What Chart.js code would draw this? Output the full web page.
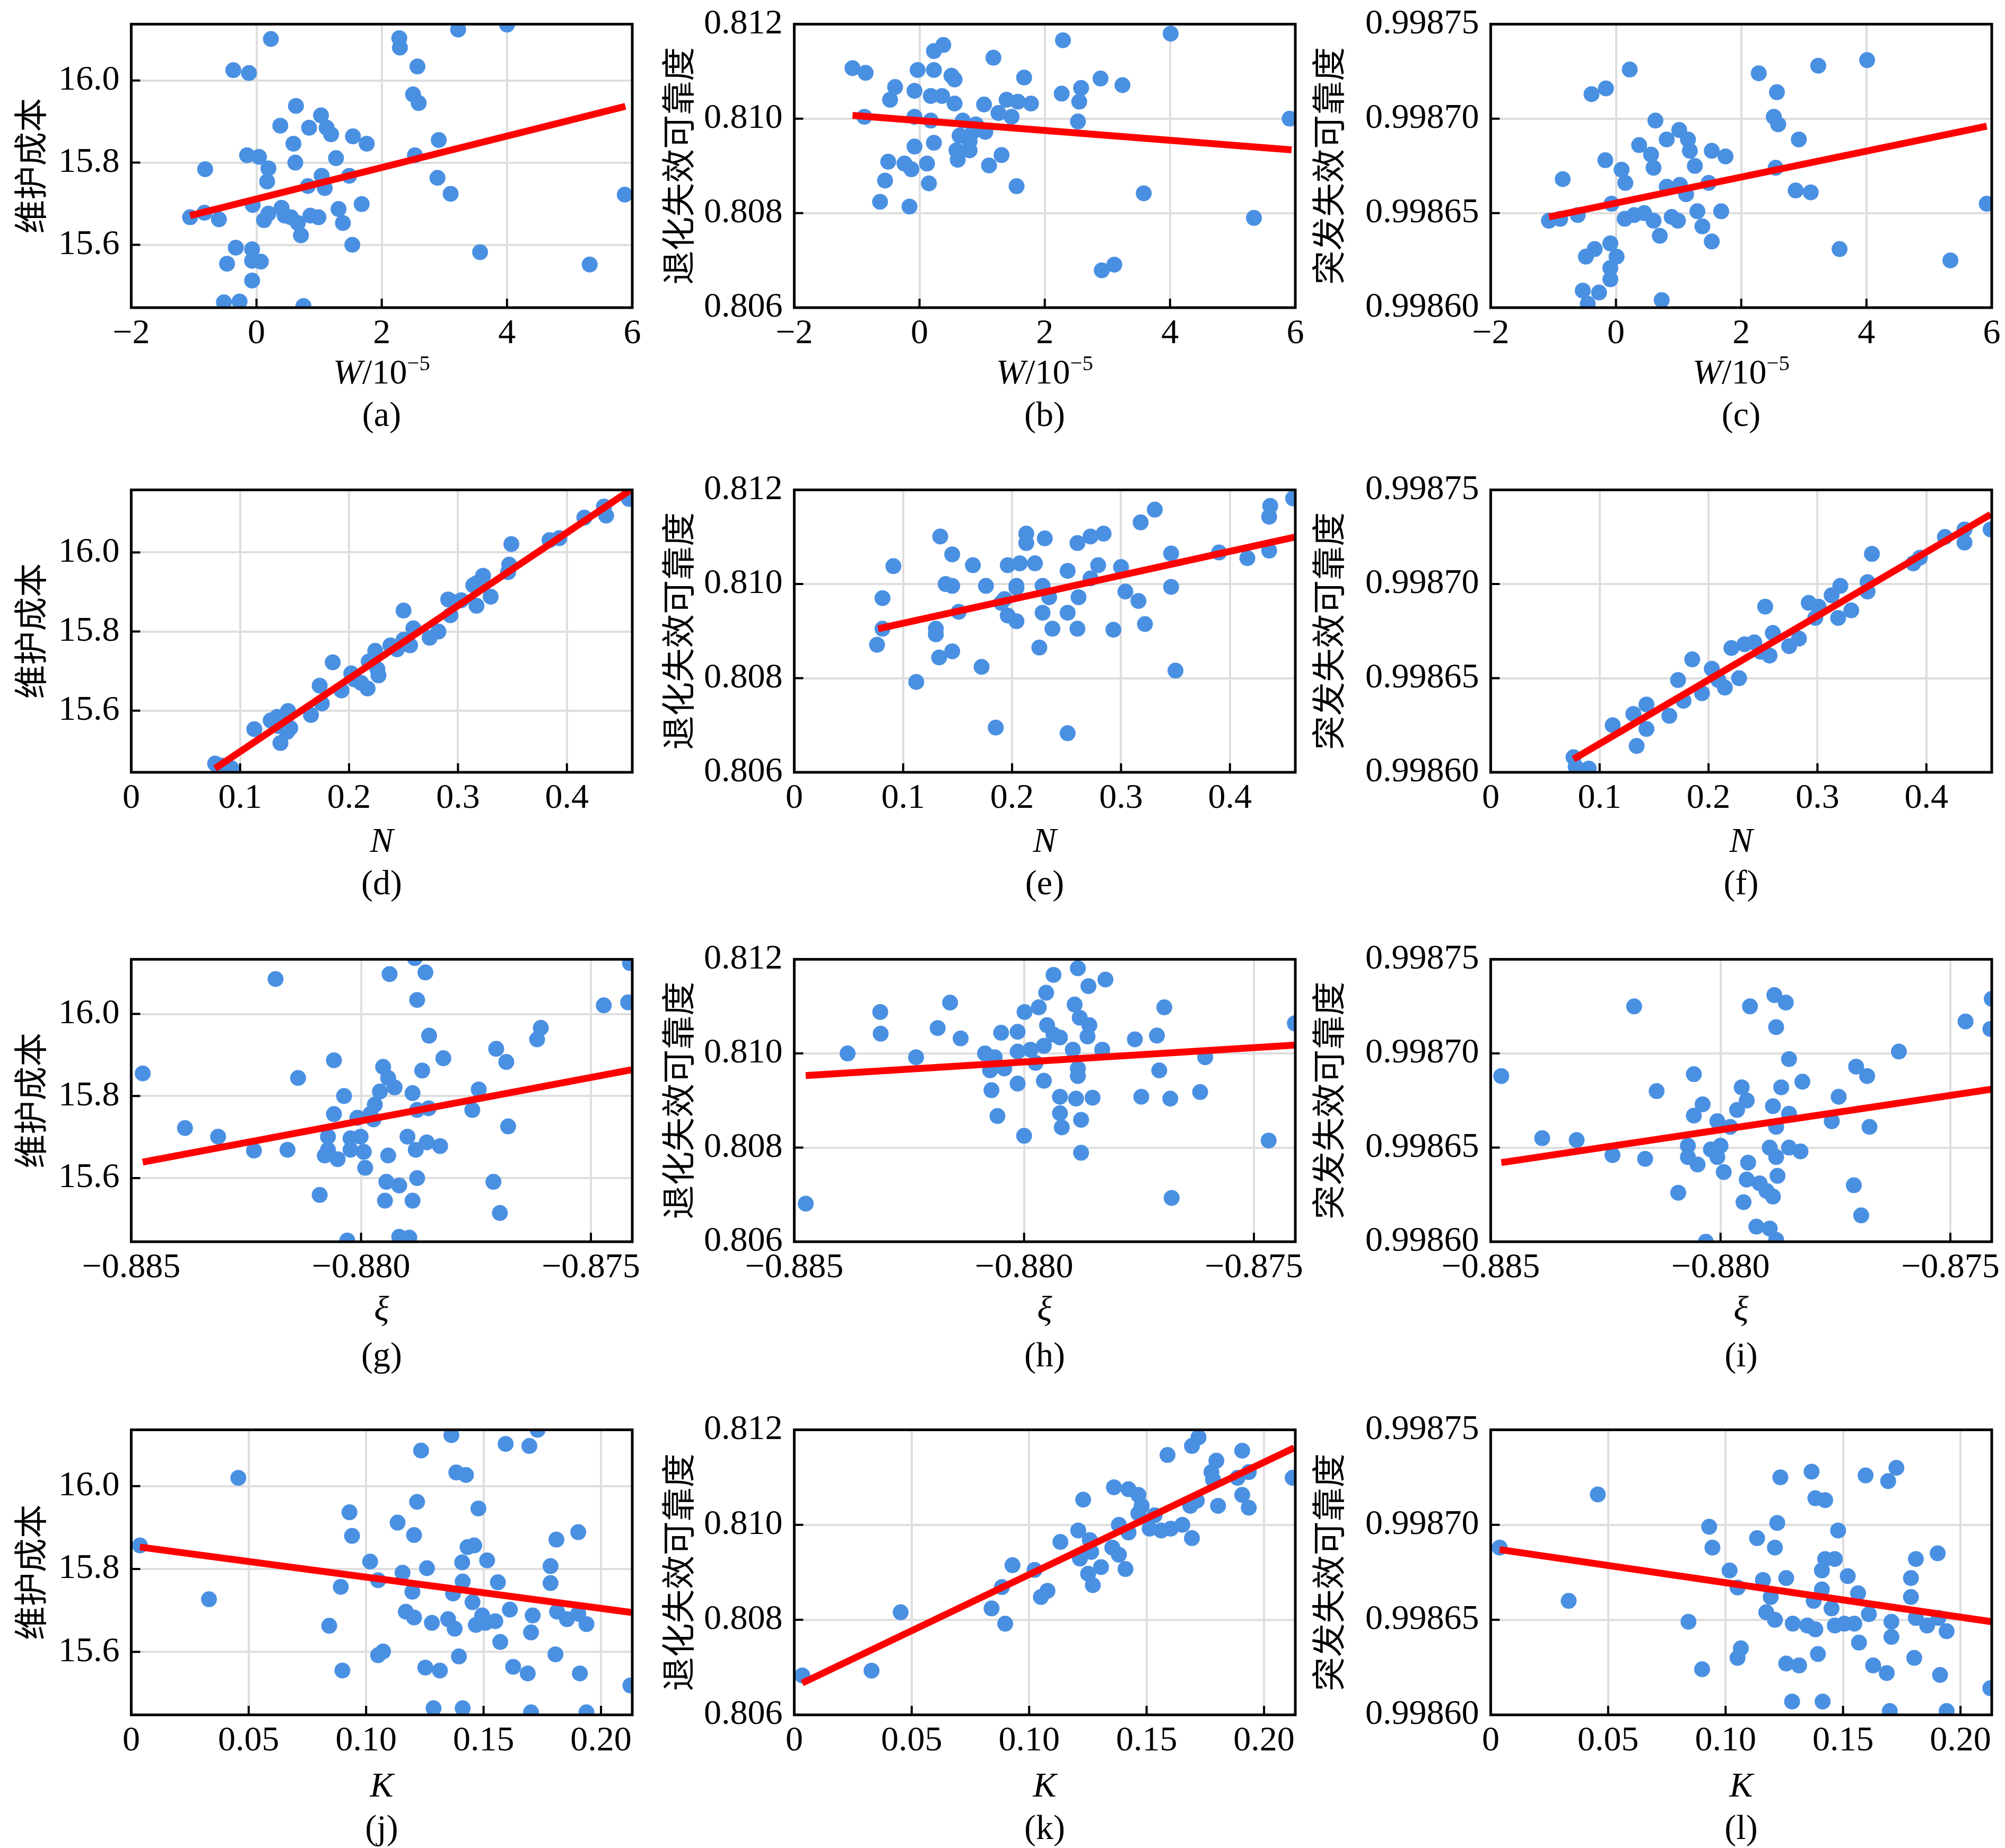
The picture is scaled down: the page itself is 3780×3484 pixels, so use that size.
<!DOCTYPE html>
<html>
<head>
<meta charset="utf-8">
<script src="https://cdn.jsdelivr.net/npm/chart.js@4.4.1/dist/chart.umd.min.js"></script>
<style>
  html, body { margin: 0; padding: 0; background: #fff; }
  #page { position: relative; width: 3780px; height: 3484px; overflow: hidden; background: #fff; }
  #page canvas { position: absolute; }
  .lbl { position: absolute; transform: translate(-50%, -50%); font-family: "Liberation Serif", "Times New Roman", serif;
         font-size: 66px; line-height: 1; white-space: nowrap; color: #000; }
  .lbl sup { font-size: 0.62em; vertical-align: 0.6em; line-height: 0; }
</style>
</head>
<body>
<div id="page"></div>
<script>
// ---- tick values / labels ----
const ticksW = [-2, 0, 2, 4, 6];
const labelsW = ['\u22122', '0', '2', '4', '6'];
const ticksN = [0, 0.1, 0.2, 0.3, 0.4];
const labelsN = ['0', '0.1', '0.2', '0.3', '0.4'];
const ticksXi = [-0.885, -0.880, -0.875];
const labelsXi = ['\u22120.885', '\u22120.880', '\u22120.875'];
const ticksK = [0, 0.05, 0.10, 0.15, 0.20];
const labelsK = ['0', '0.05', '0.10', '0.15', '0.20'];
const ticksCost = [15.6, 15.8, 16.0];
const labelsCost = ['15.6', '15.8', '16.0'];
const ticksDeg = [0.806, 0.808, 0.810, 0.812];
const labelsDeg = ['0.806', '0.808', '0.810', '0.812'];
const ticksSud = [0.99860, 0.99865, 0.99870, 0.99875];
const labelsSud = ['0.99860', '0.99865', '0.99870', '0.99875'];

const yTitles = ['维护成本', '退化失效可靠度', '突发失效可靠度'];
const captions = ['(a)', '(b)', '(c)', '(d)', '(e)', '(f)', '(g)', '(h)', '(i)', '(j)', '(k)', '(l)'];

// ---- scatter points [x, y] ----
const ptsA = [[0.23,16.101],[2.28,16.103],[2.29,16.080],[3.22,16.124],[4.0,16.136],[2.57,16.034],[-0.37,16.025],[-0.12,16.018],[2.50,15.966],[2.59,15.945],[0.63,15.938],[1.03,15.915],[0.38,15.890],[0.84,15.885],[1.12,15.885],[1.19,15.869],[1.54,15.864],[1.76,15.846],[2.91,15.855],[0.59,15.846],[-0.15,15.818],[0.04,15.814],[0.19,15.786],[0.17,15.754],[0.62,15.800],[1.27,15.811],[-0.82,15.784],[2.53,15.818],[1.04,15.768],[1.48,15.768],[0.82,15.743],[1.09,15.738],[2.89,15.763],[3.10,15.724],[5.88,15.722],[-0.06,15.697],[-0.83,15.678],[-1.06,15.667],[-0.60,15.662],[0.19,15.676],[0.40,15.690],[0.55,15.667],[0.66,15.653],[0.86,15.671],[0.99,15.667],[1.31,15.687],[1.68,15.699],[1.38,15.653],[0.71,15.623],[1.53,15.600],[3.57,15.582],[5.32,15.552],[-0.33,15.593],[-0.07,15.589],[-0.47,15.554],[-0.07,15.561],[0.07,15.559],[-0.07,15.513],[-0.52,15.460],[-0.27,15.462],[0.75,15.451],[0.12,15.660],[0.45,15.671]];
const ptsB = [[-1.07,0.81107],[-0.86,0.81097],[0.38,0.81156],[0.23,0.81143],[1.18,0.81129],[2.29,0.81166],[4.01,0.81180],[-0.03,0.81103],[0.23,0.81103],[0.51,0.81091],[0.56,0.81083],[1.67,0.81087],[2.89,0.81085],[3.24,0.81071],[-0.39,0.81067],[-0.47,0.81040],[-0.08,0.81059],[0.18,0.81048],[0.36,0.81048],[0.56,0.81032],[1.03,0.81030],[1.39,0.81040],[1.57,0.81036],[1.78,0.81032],[2.27,0.81053],[2.58,0.81065],[2.55,0.81036],[-0.88,0.81004],[-0.08,0.81004],[0.18,0.80996],[1.26,0.81012],[1.47,0.81004],[2.53,0.80994],[5.91,0.81000],[0.69,0.80996],[0.90,0.80988],[1.05,0.80972],[0.80,0.80952],[0.59,0.80933],[0.80,0.80933],[-0.08,0.80941],[0.23,0.80949],[-0.50,0.80909],[-0.24,0.80905],[-0.13,0.80893],[0.12,0.80905],[0.61,0.80913],[1.11,0.80901],[1.31,0.80923],[-0.55,0.80869],[0.15,0.80863],[1.55,0.80857],[3.58,0.80842],[-0.63,0.80824],[-0.16,0.80814],[5.34,0.80790],[2.91,0.80679],[3.11,0.80691],[0.85,0.80972],[0.64,0.80964]];
const ptsC = [[0.22,0.998726],[-0.39,0.998713],[-0.16,0.998716],[2.28,0.998724],[3.23,0.998728],[4.01,0.998731],[2.57,0.998714],[0.63,0.998699],[2.52,0.998701],[2.59,0.998697],[1.01,0.998694],[0.81,0.998689],[1.15,0.998689],[1.18,0.998683],[0.37,0.998686],[0.56,0.998681],[0.60,0.998674],[1.26,0.998675],[1.53,0.998683],[1.75,0.998680],[2.92,0.998689],[2.55,0.998674],[-0.17,0.998678],[0.09,0.998673],[0.15,0.998666],[-0.85,0.998668],[0.81,0.998664],[1.02,0.998665],[1.12,0.998660],[1.48,0.998666],[2.87,0.998662],[3.11,0.998661],[5.92,0.998655],[-0.07,0.998655],[-1.07,0.998646],[-0.89,0.998647],[-0.61,0.998649],[0.14,0.998647],[0.29,0.998649],[0.45,0.998650],[0.60,0.998646],[0.89,0.998648],[0.99,0.998646],[1.30,0.998651],[1.68,0.998651],[1.38,0.998643],[1.53,0.998635],[0.70,0.998638],[3.57,0.998631],[5.34,0.998625],[-0.48,0.998627],[-0.34,0.998631],[-0.09,0.998634],[0.01,0.998627],[-0.09,0.998621],[-0.09,0.998615],[-0.53,0.998609],[-0.27,0.998608],[-0.45,0.998602],[0.73,0.998604]];
const ptsD = [[0.077,15.466],[0.083,15.461],[0.092,15.454],[0.113,15.553],[0.134,15.584],[0.144,15.599],[0.135,15.561],[0.137,15.518],[0.143,15.546],[0.165,15.589],[0.175,15.618],[0.173,15.663],[0.185,15.722],[0.193,15.651],[0.202,15.694],[0.211,15.670],[0.217,15.656],[0.226,15.705],[0.227,15.689],[0.224,15.751],[0.238,15.765],[0.250,15.779],[0.259,15.808],[0.250,15.853],[0.256,15.765],[0.274,15.784],[0.282,15.800],[0.291,15.881],[0.293,15.841],[0.303,15.879],[0.317,15.865],[0.314,15.917],[0.323,15.941],[0.330,15.888],[0.346,15.950],[0.347,15.969],[0.349,16.021],[0.384,16.031],[0.393,16.036],[0.416,16.088],[0.434,16.116],[0.436,16.093],[0.457,16.135],[0.205,15.679],[0.244,15.755],[0.218,15.724],[0.297,15.874],[0.317,15.922],[0.128,15.575],[0.146,15.556]];
const ptsE = [[0.134,0.81101],[0.145,0.81063],[0.091,0.81038],[0.164,0.81040],[0.081,0.80970],[0.139,0.81000],[0.145,0.80996],[0.176,0.80996],[0.196,0.81040],[0.207,0.81044],[0.221,0.81044],[0.204,0.80996],[0.213,0.81107],[0.230,0.81097],[0.213,0.81087],[0.260,0.81087],[0.272,0.81101],[0.284,0.81107],[0.318,0.81131],[0.331,0.81158],[0.437,0.81166],[0.436,0.81143],[0.458,0.81182],[0.346,0.81065],[0.390,0.81067],[0.416,0.81055],[0.436,0.81071],[0.251,0.81028],[0.279,0.81040],[0.300,0.81036],[0.272,0.81012],[0.228,0.80996],[0.234,0.80972],[0.261,0.80972],[0.304,0.80984],[0.316,0.80964],[0.346,0.80994],[0.190,0.80960],[0.196,0.80933],[0.204,0.80921],[0.151,0.80941],[0.130,0.80905],[0.130,0.80893],[0.081,0.80905],[0.228,0.80939],[0.251,0.80939],[0.237,0.80905],[0.260,0.80905],[0.293,0.80903],[0.322,0.80915],[0.076,0.80871],[0.133,0.80844],[0.145,0.80857],[0.225,0.80865],[0.172,0.80824],[0.350,0.80816],[0.112,0.80792],[0.185,0.80695],[0.251,0.80683],[0.204,0.80992],[0.193,0.80968]];
const ptsF = [[0.076,0.998608],[0.078,0.998603],[0.090,0.998602],[0.112,0.998625],[0.134,0.998614],[0.131,0.998631],[0.143,0.998636],[0.143,0.998623],[0.164,0.998630],[0.177,0.998638],[0.172,0.998649],[0.185,0.998660],[0.194,0.998642],[0.203,0.998655],[0.215,0.998645],[0.228,0.998650],[0.221,0.998666],[0.233,0.998668],[0.242,0.998669],[0.259,0.998674],[0.252,0.998688],[0.256,0.998662],[0.274,0.998667],[0.283,0.998671],[0.292,0.998690],[0.298,0.998682],[0.313,0.998694],[0.321,0.998699],[0.319,0.998682],[0.331,0.998686],[0.346,0.998701],[0.346,0.998696],[0.350,0.998716],[0.388,0.998711],[0.394,0.998714],[0.417,0.998725],[0.435,0.998729],[0.435,0.998722],[0.459,0.998729],[0.209,0.998649],[0.248,0.998664],[0.301,0.998688]];
const ptsG = [[-0.88475,15.855],[-0.88186,16.085],[-0.87938,16.097],[-0.87860,16.101],[-0.87883,16.136],[-0.87878,16.034],[-0.87472,16.021],[-0.87419,16.028],[-0.87415,16.124],[-0.87609,15.966],[-0.87617,15.938],[-0.87852,15.947],[-0.87706,15.915],[-0.87684,15.883],[-0.87821,15.892],[-0.87867,15.862],[-0.88059,15.887],[-0.88137,15.844],[-0.87952,15.871],[-0.87941,15.844],[-0.87927,15.821],[-0.87959,15.811],[-0.87888,15.807],[-0.87744,15.816],[-0.88037,15.800],[-0.87970,15.779],[-0.87980,15.756],[-0.88059,15.756],[-0.88008,15.747],[-0.87973,15.743],[-0.87878,15.766],[-0.87853,15.770],[-0.87758,15.766],[-0.87680,15.726],[-0.88383,15.722],[-0.88311,15.701],[-0.88233,15.667],[-0.88160,15.669],[-0.88072,15.701],[-0.88072,15.669],[-0.88051,15.646],[-0.88079,15.655],[-0.88023,15.697],[-0.88001,15.701],[-0.88023,15.669],[-0.87994,15.664],[-0.87941,15.655],[-0.87899,15.701],[-0.87881,15.669],[-0.87857,15.687],[-0.87828,15.678],[-0.87991,15.625],[-0.87712,15.591],[-0.88090,15.559],[-0.87945,15.591],[-0.87917,15.582],[-0.87878,15.600],[-0.87948,15.545],[-0.87888,15.545],[-0.87698,15.515],[-0.87917,15.457],[-0.87895,15.455],[-0.88030,15.448]];
const ptsH = [[-0.88475,0.80681],[-0.88384,0.81000],[-0.88313,0.81088],[-0.88312,0.81042],[-0.88235,0.80992],[-0.88188,0.81054],[-0.88161,0.81108],[-0.88138,0.81032],[-0.87936,0.81167],[-0.87883,0.81181],[-0.87823,0.81157],[-0.87860,0.81143],[-0.87952,0.81129],[-0.87968,0.81098],[-0.87999,0.81088],[-0.87890,0.81104],[-0.87879,0.81076],[-0.87858,0.81060],[-0.87862,0.81036],[-0.87950,0.81060],[-0.87936,0.81040],[-0.87922,0.81034],[-0.88050,0.81044],[-0.88014,0.81046],[-0.87695,0.81098],[-0.87711,0.81038],[-0.87759,0.81030],[-0.87411,0.81064],[-0.88085,0.81000],[-0.88064,0.80992],[-0.88014,0.81004],[-0.87986,0.81008],[-0.87957,0.81016],[-0.87894,0.81008],[-0.87830,0.81008],[-0.87606,0.80992],[-0.87706,0.80964],[-0.88074,0.80964],[-0.88043,0.80968],[-0.87975,0.80980],[-0.87883,0.80968],[-0.87883,0.80952],[-0.88014,0.80936],[-0.87957,0.80942],[-0.88071,0.80922],[-0.87922,0.80908],[-0.87887,0.80904],[-0.87851,0.80906],[-0.87745,0.80908],[-0.87682,0.80904],[-0.87617,0.80918],[-0.88058,0.80867],[-0.87922,0.80873],[-0.87918,0.80843],[-0.87876,0.80859],[-0.88000,0.80825],[-0.87876,0.80789],[-0.87468,0.80815],[-0.87679,0.80693]];
const ptsI = [[-0.88477,0.998688],[-0.88388,0.998655],[-0.88313,0.998654],[-0.88235,0.998646],[-0.88164,0.998644],[-0.88188,0.998725],[-0.88139,0.998680],[-0.88058,0.998689],[-0.88039,0.998673],[-0.88058,0.998667],[-0.87936,0.998725],[-0.87883,0.998731],[-0.87858,0.998727],[-0.87879,0.998714],[-0.87851,0.998697],[-0.87822,0.998685],[-0.87868,0.998682],[-0.87705,0.998693],[-0.87681,0.998688],[-0.87612,0.998701],[-0.87467,0.998717],[-0.87413,0.998713],[-0.87410,0.998729],[-0.87743,0.998677],[-0.87758,0.998664],[-0.87676,0.998661],[-0.87954,0.998682],[-0.87943,0.998675],[-0.87964,0.998670],[-0.88007,0.998664],[-0.87979,0.998661],[-0.87886,0.998672],[-0.87851,0.998668],[-0.87879,0.998661],[-0.88071,0.998651],[-0.88071,0.998645],[-0.88050,0.998641],[-0.88021,0.998649],[-0.88000,0.998651],[-0.88007,0.998645],[-0.87940,0.998642],[-0.87893,0.998650],[-0.87879,0.998645],[-0.87851,0.998650],[-0.87826,0.998648],[-0.87993,0.998637],[-0.87710,0.998630],[-0.88092,0.998626],[-0.87943,0.998633],[-0.87915,0.998631],[-0.87876,0.998635],[-0.87950,0.998621],[-0.87886,0.998624],[-0.87694,0.998614],[-0.87922,0.998608],[-0.87893,0.998607],[-0.87879,0.998601],[-0.88032,0.998600],[-0.87900,0.998627]];
const ptsJ = [[0.0037,15.857],[0.0331,15.727],[0.0456,16.020],[0.0843,15.663],[0.0892,15.757],[0.0899,15.555],[0.0929,15.937],[0.0940,15.880],[0.1017,15.818],[0.1051,15.773],[0.1051,15.592],[0.1072,15.601],[0.1134,15.912],[0.1155,15.791],[0.1204,15.882],[0.1197,15.745],[0.1217,15.962],[0.1234,16.086],[0.1169,15.697],[0.1204,15.683],[0.1259,15.802],[0.1280,15.670],[0.1252,15.562],[0.1314,15.555],[0.1287,15.464],[0.1363,16.123],[0.1384,16.033],[0.1425,16.027],[0.1409,15.816],[0.1411,15.770],[0.1432,15.853],[0.1460,15.857],[0.1370,15.741],[0.1349,15.679],[0.1377,15.656],[0.1453,15.720],[0.1467,15.665],[0.1494,15.688],[0.1508,15.670],[0.1550,15.674],[0.1478,15.946],[0.1515,15.821],[0.1561,15.768],[0.1612,15.702],[0.1571,15.624],[0.1395,15.589],[0.1411,15.464],[0.1594,16.102],[0.1695,16.097],[0.1730,16.136],[0.1810,15.871],[0.1903,15.889],[0.1785,15.807],[0.1785,15.766],[0.1709,15.688],[0.1702,15.647],[0.1813,15.697],[0.1855,15.679],[0.1903,15.692],[0.1938,15.667],[0.1806,15.594],[0.1626,15.564],[0.1688,15.548],[0.1910,15.548],[0.2125,15.519],[0.1702,15.454],[0.1938,15.454]];
const ptsK = [[0.0034,0.80683],[0.0329,0.80693],[0.0453,0.80816],[0.0840,0.80824],[0.0898,0.80792],[0.0929,0.80915],[0.1023,0.80905],[0.1050,0.80848],[0.1078,0.80861],[0.0884,0.80869],[0.1133,0.80964],[0.1209,0.80988],[0.1230,0.81053],[0.1216,0.80929],[0.1258,0.80968],[0.1264,0.80943],[0.1306,0.80911],[0.1251,0.80897],[0.1271,0.80873],[0.1361,0.81079],[0.1423,0.81075],[0.1465,0.81063],[0.1382,0.81000],[0.1423,0.80984],[0.1465,0.81024],[0.1513,0.80992],[0.1562,0.80988],[0.1603,0.80992],[0.1652,0.81000],[0.1686,0.81040],[0.1693,0.80972],[0.1410,0.80907],[0.1354,0.80952],[0.1382,0.80937],[0.1589,0.81147],[0.1693,0.81166],[0.1721,0.81184],[0.1797,0.81135],[0.1776,0.81111],[0.1907,0.81156],[0.1783,0.81095],[0.1887,0.81099],[0.1935,0.81111],[0.1907,0.81063],[0.1935,0.81036],[0.1804,0.81040],[0.1714,0.81051],[0.2122,0.81099],[0.1479,0.81040],[0.1534,0.81020]];
const ptsL = [[0.0038,0.998688],[0.0332,0.998660],[0.0456,0.998716],[0.0842,0.998649],[0.0900,0.998624],[0.0930,0.998699],[0.0944,0.998688],[0.1017,0.998676],[0.1051,0.998667],[0.1065,0.998635],[0.1051,0.998630],[0.1134,0.998693],[0.1159,0.998671],[0.1210,0.998688],[0.1220,0.998701],[0.1233,0.998725],[0.1192,0.998662],[0.1173,0.998654],[0.1210,0.998650],[0.1258,0.998672],[0.1286,0.998648],[0.1348,0.998647],[0.1258,0.998627],[0.1313,0.998626],[0.1283,0.998607],[0.1366,0.998728],[0.1382,0.998714],[0.1424,0.998713],[0.1479,0.998697],[0.1410,0.998676],[0.1424,0.998682],[0.1465,0.998682],[0.1410,0.998666],[0.1375,0.998660],[0.1382,0.998645],[0.1451,0.998656],[0.1465,0.998647],[0.1506,0.998648],[0.1548,0.998648],[0.1520,0.998673],[0.1564,0.998664],[0.1610,0.998653],[0.1568,0.998638],[0.1393,0.998632],[0.1413,0.998607],[0.1596,0.998726],[0.1692,0.998723],[0.1727,0.998730],[0.1810,0.998682],[0.1903,0.998685],[0.1789,0.998672],[0.1789,0.998662],[0.1706,0.998649],[0.1706,0.998641],[0.1810,0.998651],[0.1858,0.998647],[0.1906,0.998651],[0.1941,0.998644],[0.1803,0.998630],[0.1628,0.998626],[0.1686,0.998622],[0.1913,0.998621],[0.2127,0.998614],[0.1699,0.998602],[0.1941,0.998602]];

// ---- fitted line end points [x, y] ----
const fitA = [[-1.06, 15.671], [5.89, 15.937]];
const fitB = [[-1.07, 0.81007], [5.94, 0.80934]];
const fitC = [[-1.07, 0.998648], [5.92, 0.998696]];
const fitD = [[0.077, 15.454], [0.458, 16.157]];
const fitE = [[0.077, 0.80905], [0.460, 0.81100]];
const fitF = [[0.076, 0.998607], [0.459, 0.998737]];
const fitG = [[-0.88475, 15.639], [-0.87412, 15.864]];
const fitH = [[-0.88475, 0.80953], [-0.87408, 0.81018]];
const fitI = [[-0.88477, 0.998642], [-0.87410, 0.998681]];
const fitJ = [[0.0037, 15.853], [0.2132, 15.695]];
const fitK = [[0.0034, 0.80667], [0.2128, 0.81162]];
const fitL = [[0.0038, 0.998687], [0.2134, 0.998649]];

// ---- axis ranges ----
const xRanges = [[-2, 6], [0, 0.46], [-0.885, -0.8741], [0, 0.2133]];
const costRanges = [[15.447, 16.137], [15.444, 16.158], [15.445, 16.133], [15.448, 16.136]];
const degRange = [0.806, 0.812];
const sudRange = [0.99860, 0.99875];

// ---- layout (page pixels) ----
const colLeft = [247, 1497, 2810];
const rowTop = [34, 912, 1797, 2684];
const rowH = [546, 544, 544, 549];
const plotW = 945;
const yTitleDist = [191, 220, 307];
const xTitleOff = [121, 128, 126, 132];
const captionOff = [201, 208, 213, 212];
const TICK_SIZE = 66, TITLE_SIZE = 64, LINE_H = 1.2;
const PAD_T = 50, PAD_R = 90, AXIS_B = 110;

const xTicks = [ticksW, ticksN, ticksXi, ticksK];
const xLabels = [labelsW, labelsN, labelsXi, labelsK];
const xTitles = ['<i>W</i>/10<sup>\u22125</sup>', '<i>N</i>', '<i>\u03be</i>', '<i>K</i>'];
const yTicks = [ticksCost, ticksDeg, ticksSud];
const yLabels = [labelsCost, labelsDeg, labelsSud];

const points = [[ptsA, ptsB, ptsC], [ptsD, ptsE, ptsF], [ptsG, ptsH, ptsI], [ptsJ, ptsK, ptsL]];
const fits = [[fitA, fitB, fitC], [fitD, fitE, fitF], [fitG, fitH, fitI], [fitJ, fitK, fitL]];

const serif = '"Liberation Serif", "Times New Roman", serif';

// box frame + inward tick marks
const framePlugin = {
  id: 'frame',
  afterDatasetsDraw(chart) {
    const { ctx, chartArea: a, scales: { x, y } } = chart;
    ctx.save();
    ctx.strokeStyle = '#000';
    ctx.lineWidth = 4;
    ctx.beginPath();
    x.ticks.forEach(t => {
      const px = x.getPixelForValue(t.value);
      ctx.moveTo(px, a.bottom); ctx.lineTo(px, a.bottom - 17);
    });
    y.ticks.forEach(t => {
      const py = y.getPixelForValue(t.value);
      ctx.moveTo(a.left, py); ctx.lineTo(a.left + 17, py);
    });
    ctx.stroke();
    ctx.lineWidth = 5;
    ctx.strokeRect(a.left, a.top, a.right - a.left, a.bottom - a.top);
    ctx.restore();
  }
};

const page = document.getElementById('page');

function addLabel(html, cx, cy) {
  const d = document.createElement('div');
  d.className = 'lbl';
  d.innerHTML = html;
  d.style.left = cx + 'px';
  d.style.top = cy + 'px';
  page.appendChild(d);
}

for (let r = 0; r < 4; r++) {
  for (let c = 0; c < 3; c++) {
    const L = yTitleDist[c] + TITLE_SIZE * LINE_H / 2;
    const canvas = document.createElement('canvas');
    const w = L + plotW + PAD_R;
    const h = PAD_T + rowH[r] + AXIS_B;
    canvas.width = w; canvas.height = h;
    canvas.style.width = w + 'px'; canvas.style.height = h + 'px';
    canvas.style.left = (colLeft[c] - L) + 'px';
    canvas.style.top = (rowTop[r] - PAD_T) + 'px';
    page.appendChild(canvas);

    const yr = c === 0 ? costRanges[r] : (c === 1 ? degRange : sudRange);
    const xv = xTicks[r], xl = xLabels[r], yv = yTicks[c], yl = yLabels[c];

    new Chart(canvas, {
      type: 'scatter',
      data: {
        datasets: [
          {
            type: 'line',
            data: fits[r][c].map(([x, y]) => ({ x, y })),
            borderColor: '#ff0000', borderWidth: 13, pointRadius: 0,
            fill: false, tension: 0, order: 0, clip: 0
          },
          {
            data: points[r][c].map(([x, y]) => ({ x, y })),
            backgroundColor: '#4a90e2', borderWidth: 0, pointRadius: 15,
            order: 1, clip: 0
          }
        ]
      },
      options: {
        responsive: false, animation: false, devicePixelRatio: 1,
        layout: { padding: { left: 0, top: PAD_T, right: PAD_R, bottom: 0 } },
        plugins: { legend: { display: false }, tooltip: { enabled: false } },
        scales: {
          x: {
            type: 'linear', min: xRanges[r][0], max: xRanges[r][1],
            afterFit: s => { s.height = AXIS_B; },
            afterBuildTicks: s => { s.ticks = xv.map(v => ({ value: v })); },
            ticks: { callback: (v, i) => xl[i], color: '#000', padding: 10, autoSkip: false, maxRotation: 0,
                     font: { family: serif, size: TICK_SIZE } },
            grid: { color: '#dedede', lineWidth: 4, drawTicks: false },
            border: { display: false }
          },
          y: {
            type: 'linear', min: yr[0], max: yr[1],
            afterFit: s => { s.width = L; },
            afterBuildTicks: s => { s.ticks = yv.map(v => ({ value: v })); },
            ticks: { callback: (v, i) => yl[i], color: '#000', padding: 22, autoSkip: false,
                     font: { family: serif, size: TICK_SIZE } },
            grid: { color: '#dedede', lineWidth: 4, drawTicks: false },
            border: { display: false },
            title: { display: true, text: yTitles[c], color: '#000', padding: 0,
                     font: { family: '"Noto Sans CJK SC", sans-serif', size: TITLE_SIZE, lineHeight: LINE_H } }
          }
        }
      },
      plugins: [framePlugin]
    });

    const cx = colLeft[c] + plotW / 2;
    const bottom = rowTop[r] + rowH[r];
    addLabel(xTitles[r], cx, bottom + xTitleOff[r]);
    addLabel(captions[r * 3 + c], cx, bottom + captionOff[r]);
  }
}
</script>
</body>
</html>
